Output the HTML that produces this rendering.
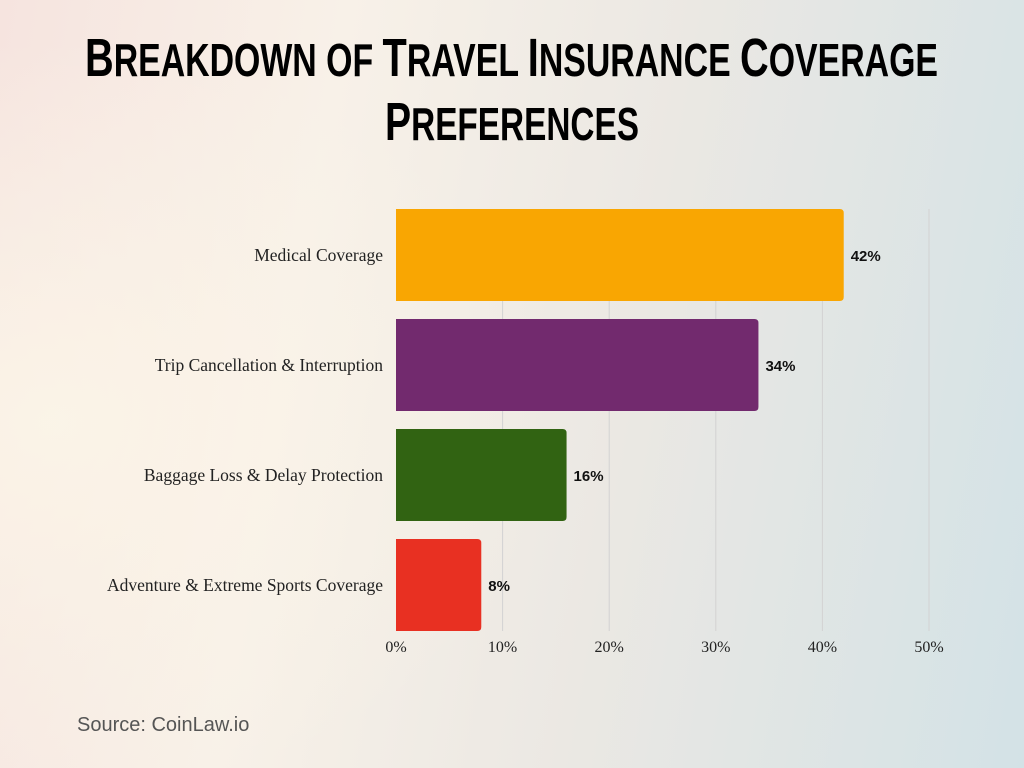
<!DOCTYPE html>
<html><head><meta charset="utf-8">
<style>
html,body{margin:0;padding:0;width:1024px;height:768px;overflow:hidden}
body{background:linear-gradient(100deg,#f6e4df 0%,#f8f1e8 30%,#ebe8e3 60%,#d3e2e6 100%)}
svg{position:absolute;left:0;top:0}
</style></head>
<body>
<svg width="1024" height="768">
<defs>
<radialGradient id="g1" cx="0.05" cy="0.55" r="0.5"><stop offset="0" stop-color="#fbf5e8" stop-opacity="0.9"/><stop offset="1" stop-color="#fbf5e8" stop-opacity="0"/></radialGradient>
</defs>
<rect width="1024" height="768" fill="url(#g1)"/>
<g font-family="'Liberation Sans Narrow','Liberation Sans',sans-serif" font-weight="bold" fill="#000">
<text x="85" y="76" font-size="46" textLength="853" lengthAdjust="spacingAndGlyphs"><tspan font-size="54">B</tspan>REAKDOWN OF <tspan font-size="54">T</tspan>RAVEL <tspan font-size="54">I</tspan>NSURANCE <tspan font-size="54">C</tspan>OVERAGE</text>
<text x="385" y="140" font-size="46" textLength="254" lengthAdjust="spacingAndGlyphs"><tspan font-size="54">P</tspan>REFERENCES</text>
</g>
<g id="grid"></g>
<g id="bars"></g>
<g id="ticks"></g>
<text x="77" y="731" font-family="'Liberation Sans',sans-serif" font-size="20" fill="#555">Source: CoinLaw.io</text>
</svg>
<script>
const categories=["Medical Coverage","Trip Cancellation & Interruption","Baggage Loss & Delay Protection","Adventure & Extreme Sports Coverage"];
const values=[42,34,16,8];
const colors=["#f9a602","#722a6e","#316312","#e83022"];
const ticks=[0,10,20,30,40,50];
const NS="http://www.w3.org/2000/svg";
const x0=396,x1=929,maxV=50;
const xs=v=>x0+(x1-x0)*v/maxV;
const top0=209,bottom=631,bh=92,step=(bottom-top0-bh)/(categories.length-1);
const yb=i=>top0+i*step;
function mk(t,a,p){const e=document.createElementNS(NS,t);for(const k in a)e.setAttribute(k,a[k]);p.appendChild(e);return e;}
const grid=document.getElementById('grid'),bars=document.getElementById('bars'),tk=document.getElementById('ticks');
ticks.forEach(t=>{
 if(t>0){const l=mk('line',{x1:xs(t),x2:xs(t),y1:top0,y2:bottom,stroke:'#d2d2d2','stroke-width':1},grid);
 
 }
 const tx=mk('text',{x:xs(t),y:652,'text-anchor':'middle','font-family':"'Liberation Serif',serif",'font-size':16,fill:'#222'},tk);
 tx.textContent=t+'%';
 
 
});
categories.forEach((c,i)=>{
 const y=yb(i),w=xs(values[i])-x0,r=4;
 const p=mk('path',{d:`M${x0},${y}H${x0+w-r}Q${x0+w},${y} ${x0+w},${y+r}V${y+bh-r}Q${x0+w},${y+bh} ${x0+w-r},${y+bh}H${x0}Z`,fill:colors[i]},bars);
 
 
 const lb=mk('text',{x:383,y:y+bh/2+6,'text-anchor':'end','font-family':"'Liberation Serif',serif",'font-size':17.5,fill:'#222'},bars);
 lb.textContent=c;
 
 
 const v=mk('text',{x:xs(values[i])+7,y:y+bh/2+6,'font-family':"'Liberation Sans Narrow','Liberation Sans',sans-serif",'font-weight':'bold','font-size':15,fill:'#111'},bars);
 v.textContent=values[i]+'%';
 
 
});
</script>
</body></html>
